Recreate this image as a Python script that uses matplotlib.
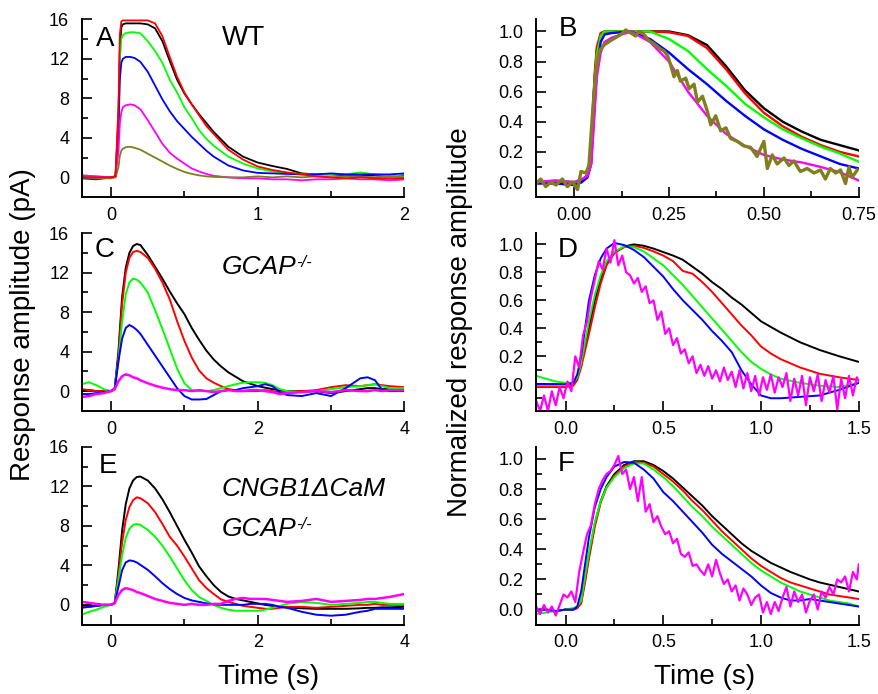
import matplotlib
matplotlib.use("Agg")
import matplotlib.pyplot as plt
from matplotlib.ticker import MultipleLocator, FormatStrFormatter

plt.rcParams['font.family'] = ['Liberation Sans', 'DejaVu Sans']

# colours of the flash series (brightest first)
cBlack = '#000000'
cRed = '#ff0000'
cGreen = '#00ff00'
cBlue = '#0000ff'
cMagenta = '#ff00ff'
cOlive = '#7f7f1e'

# ---------------- panel A : WT, pA ----------------
tA = [-0.2, -0.1, 0.0, 0.03, 0.05, 0.06, 0.07, 0.08, 0.1, 0.13, 0.16, 0.2, 0.25, 0.3, 0.35, 0.4, 0.45, 0.5,
      0.55, 0.6, 0.65, 0.7, 0.8, 0.9, 1.0, 1.1, 1.2, 1.3, 1.4, 1.5, 1.6, 1.7, 1.8, 1.9, 2.0]
aBlack = [0.0, -0.1, 0.0, 0.1, 6.0, 13.0, 15.2, 15.5, 15.6, 15.6, 15.6, 15.6, 15.5, 15.1, 13.8, 11.8, 9.9, 8.5,
          7.4, 6.4, 5.5, 4.6, 3.1, 2.1, 1.5, 1.15, 0.85, 0.4, 0.3, 0.3, 0.2, 0.2, 0.2, 0.1, 0.2]
aRed = [0.0, 0.0, 0.0, 0.1, 7.0, 14.5, 15.8, 15.9, 15.9, 15.9, 15.9, 15.9, 15.9, 15.6, 14.3, 12.2, 10.2, 8.6,
        7.4, 6.3, 5.2, 4.4, 2.8, 1.8, 1.1, 0.75, 0.5, 0.3, 0.1, 0.0, -0.1, 0.0, -0.1, -0.1, -0.1]
aGreen = [0.2, 0.1, 0.0, 0.1, 5.5, 12.0, 14.0, 14.4, 14.6, 14.7, 14.7, 14.6, 13.8, 12.8, 11.6, 9.9, 8.6, 7.1,
          6.0, 4.8, 3.9, 3.2, 2.1, 1.4, 0.9, 0.6, 0.45, 0.35, 0.3, 0.3, 0.3, 0.5, 0.3, 0.2, 0.1]
aBlue = [-0.1, -0.2, 0.0, 0.1, 4.5, 10.0, 11.6, 12.0, 12.2, 12.2, 12.1, 11.7, 10.7, 9.3, 7.9, 6.7, 5.7, 4.9,
         4.1, 3.4, 2.7, 2.1, 1.2, 0.7, 0.45, 0.4, 0.35, 0.3, 0.3, 0.4, 0.3, 0.3, 0.3, 0.3, 0.4]
aMagenta = [0.2, 0.1, 0.0, 0.1, 2.5, 5.5, 6.6, 7.1, 7.3, 7.4, 7.3, 6.9, 5.8, 4.6, 3.4, 2.5, 1.9, 1.4,
            0.9, 0.6, 0.35, 0.15, 0.0, -0.1, -0.1, -0.2, -0.2, -0.3, -0.2, -0.2, -0.1, -0.2, -0.2, -0.3, -0.2]
aOlive = [0.0, -0.1, -0.1, 0.0, 1.0, 2.2, 2.7, 2.9, 3.05, 3.1, 3.0, 2.8, 2.4, 2.0, 1.6, 1.2, 0.85, 0.55,
          0.35, 0.2, 0.1, 0.05, 0.0, 0.0, 0.1, 0.0, 0.1, 0.0, 0.1, 0.0, 0.1, 0.1, 0.0, 0.1, 0.0]

# ---------------- panel B : WT normalized ----------------
tB = [-0.1, -0.05, 0.0, 0.02, 0.035, 0.045, 0.05, 0.055, 0.06, 0.07, 0.08, 0.1, 0.15, 0.2, 0.25, 0.3, 0.35,
      0.4, 0.45, 0.5, 0.55, 0.6, 0.65, 0.7, 0.75]
bBlack = [0.0, 0.0, -0.02, 0.0, 0.05, 0.2, 0.5, 0.72, 0.88, 0.98, 1.0, 1.0, 1.0, 1.0, 1.0, 0.975, 0.91,
          0.77, 0.61, 0.49, 0.40, 0.335, 0.28, 0.245, 0.21]
bRed = [0.0, 0.0, -0.01, 0.0, 0.05, 0.22, 0.52, 0.75, 0.9, 0.99, 1.0, 1.0, 1.0, 1.0, 0.995, 0.97, 0.89,
        0.75, 0.59, 0.46, 0.37, 0.30, 0.245, 0.2, 0.17]
bGreen = [0.0, 0.01, 0.0, 0.0, 0.04, 0.18, 0.45, 0.68, 0.85, 0.97, 1.0, 1.0, 1.0, 1.0, 0.95, 0.87, 0.75,
          0.64, 0.52, 0.43, 0.35, 0.29, 0.235, 0.19, 0.135]
bBlue = [-0.01, -0.01, -0.02, 0.0, 0.03, 0.12, 0.35, 0.55, 0.75, 0.93, 0.98, 0.99, 1.0, 0.95, 0.86, 0.75, 0.65,
         0.54, 0.44, 0.35, 0.28, 0.22, 0.17, 0.12, 0.09]
bMagenta = [0.0, 0.01, 0.0, 0.02, 0.04, 0.12, 0.3, 0.5, 0.7, 0.86, 0.93, 0.96, 1.0, 0.93, 0.8, 0.6, 0.44,
            0.32, 0.24, 0.18, 0.15, 0.13, 0.1, 0.065, 0.01]
tBOlive = [-0.1, -0.088, -0.075, -0.061, -0.048, -0.031, -0.018, -0.004, 0.009, 0.018, 0.031, 0.039, 0.048,
           0.057, 0.066, 0.079, 0.096, 0.11, 0.123, 0.136, 0.149, 0.162, 0.171, 0.184, 0.197, 0.21, 0.224,
           0.237, 0.246, 0.254, 0.263, 0.272, 0.28, 0.294, 0.303, 0.316, 0.325, 0.338, 0.351, 0.36, 0.373,
           0.386, 0.4, 0.412, 0.43, 0.447, 0.465, 0.482, 0.5, 0.509, 0.522, 0.535, 0.553, 0.566, 0.579, 0.596,
           0.614, 0.632, 0.649, 0.662, 0.675, 0.689, 0.702, 0.715, 0.724, 0.732, 0.746]
bOlive = [-0.01, 0.02, -0.03, 0.0, -0.02, 0.02, -0.03, 0.0, -0.05, 0.07, 0.06, 0.11, 0.44,
          0.73, 0.87, 0.91, 0.94, 0.96, 0.98, 1.01, 0.99, 0.97, 1.0, 0.98, 0.94, 0.92, 0.89,
          0.87, 0.84, 0.78, 0.70, 0.74, 0.67, 0.69, 0.62, 0.65, 0.53, 0.57, 0.47, 0.38, 0.44,
          0.34, 0.36, 0.29, 0.27, 0.24, 0.23, 0.17, 0.27, 0.09, 0.18, 0.12, 0.16, 0.11, 0.14, 0.07,
          0.09, 0.06, 0.08, 0.02, 0.09, 0.06, 0.08, -0.01, 0.10, 0.03, 0.08]

# ---------------- panels C and E : GCAP-/- and CNGB1dCaM GCAP-/-, pA ----------------
tCE = [-0.4, -0.3, -0.2, -0.1, 0.0, 0.05, 0.1, 0.15, 0.2, 0.25, 0.3, 0.35, 0.4, 0.5, 0.6, 0.7, 0.8, 0.9, 1.0,
       1.1, 1.2, 1.3, 1.4, 1.5, 1.6, 1.7, 1.8, 1.9, 2.0, 2.1, 2.2, 2.3, 2.4, 2.6, 2.8, 3.0, 3.2, 3.4, 3.5,
       3.6, 3.7, 3.8, 4.0]
cBlackV = [0.0, 0.1, 0.0, 0.0, 0.0, 0.3, 4.0, 9.5, 12.5, 14.0, 14.7, 14.9, 14.8, 13.8, 12.6, 11.4, 10.1, 8.9, 7.8,
           6.4, 5.2, 4.1, 3.2, 2.5, 1.9, 1.45, 1.0, 0.75, 0.5, 0.35, 0.2, 0.1, 0.0, 0.0, 0.0, -0.2, 0.0, 0.2, 0.3,
           0.3, 0.2, 0.2, 0.2]
cRedV = [0.2, 0.1, 0.0, 0.0, 0.0, 0.3, 3.5, 8.8, 12.0, 13.5, 14.1, 14.2, 14.1, 13.5, 12.4, 11.0, 9.3, 7.1, 5.1,
         3.4, 2.1, 1.3, 0.85, 0.5, 0.2, 0.1, 0.0, 0.0, 0.0, 0.1, 0.0, -0.1, -0.1, 0.0, 0.1, 0.4, 0.6, 0.5, 0.6,
         0.7, 0.6, 0.5, 0.4]
cGreenV = [0.7, 0.9, 0.6, 0.2, 0.0, 0.3, 3.0, 7.0, 9.8, 11.0, 11.4, 11.3, 11.0, 10.0, 8.2, 6.3, 4.3, 2.3, 0.8,
           0.1, 0.0, 0.0, 0.1, 0.3, 0.5, 0.7, 0.85, 0.9, 0.9, 0.85, 0.6, 0.2, 0.0, -0.1, 0.0, 0.2, 0.4, 0.5, 0.6,
           0.7, 0.5, 0.3, 0.3]
cBlueV = [-0.3, -0.3, -0.2, -0.1, 0.0, 0.2, 3.0, 5.3, 6.4, 6.7, 6.5, 6.2, 5.8, 4.7, 3.6, 2.5, 1.4, 0.3, -0.5,
          -0.85, -0.85, -0.8, -0.4, 0.0, 0.1, 0.1, 0.3, 0.4, 0.5, 0.7, 0.5, -0.1, -0.4, -0.5, -0.2, -0.5, 0.3, 1.3,
          1.4, 1.1, 0.1, 0.0, 0.0]
cMagentaV = [-0.6, -0.5, -0.3, -0.2, 0.0, 0.2, 1.0, 1.5, 1.7, 1.6, 1.4, 1.3, 1.1, 0.8, 0.55, 0.35, 0.2, 0.1, 0.1,
             0.0, 0.1, 0.0, -0.1, 0.0, 0.1, 0.0, 0.0, 0.1, 0.1, 0.0, -0.1, -0.3, -0.2, -0.1, 0.0, -0.1, 0.1, 0.0,
             0.0, 0.1, 0.0, 0.1, 0.1]

eBlackV = [-0.1, -0.1, -0.1, 0.0, 0.0, 0.2, 3.5, 7.5, 10.2, 11.8, 12.6, 12.95, 13.0, 12.6, 11.8, 10.7, 9.4, 8.0,
           6.6, 5.3, 3.9, 2.9, 2.0, 1.3, 0.85, 0.6, 0.45, 0.3, 0.15, 0.0, -0.1, -0.2, -0.25, -0.35, -0.4, -0.4,
           -0.4, -0.35, -0.3, -0.3, -0.25, -0.25, -0.2]
eRedV = [-0.2, -0.2, -0.1, 0.0, 0.0, 0.2, 3.0, 6.3, 8.6, 9.9, 10.6, 10.9, 10.8, 10.3, 9.4, 8.2, 6.9, 6.0, 4.9,
         3.7, 2.5, 1.7, 1.1, 0.55, 0.3, 0.1, -0.1, -0.2, -0.3, -0.4, -0.4, -0.3, -0.2, -0.2, -0.3, -0.2, -0.1,
         0.0, 0.0, 0.1, 0.0, 0.0, 0.0]
eGreenV = [-1.0, -0.7, -0.5, -0.2, 0.0, 0.2, 2.5, 5.0, 6.8, 7.7, 8.1, 8.2, 8.1, 7.6, 6.9, 6.0, 4.9, 3.7, 2.5,
           1.5, 0.8, 0.4, 0.0, -0.3, -0.5, -0.6, -0.6, -0.6, -0.6, -0.5, -0.3, -0.1, 0.1, 0.3, 0.2, 0.0, 0.1,
           0.2, 0.3, 0.3, 0.2, 0.1, 0.1]
eBlueV = [-0.3, -0.2, -0.1, 0.0, 0.0, 0.2, 1.8, 3.5, 4.3, 4.5, 4.45, 4.3, 4.05, 3.55, 2.9, 2.2, 1.6, 1.1, 0.7,
          0.45, 0.3, 0.15, 0.05, 0.0, 0.0, 0.0, 0.0, 0.1, 0.1, 0.1, 0.0, -0.2, -0.3, -0.7, -1.0, -1.1, -1.0,
          -0.7, -0.6, -0.4, -0.4, -0.4, -0.4]
eMagentaV = [0.3, 0.2, 0.1, 0.0, 0.0, 0.2, 1.0, 1.5, 1.7, 1.6, 1.5, 1.3, 1.2, 0.9, 0.6, 0.4, 0.2, 0.1, 0.0,
             0.1, 0.0, 0.0, 0.1, 0.1, 0.4, 0.6, 0.7, 0.6, 0.6, 0.6, 0.5, 0.4, 0.3, 0.4, 0.6, 0.3, 0.4, 0.5, 0.6,
             0.6, 0.7, 0.8, 1.1]

# ---------------- panel D : GCAP-/- normalized ----------------
tD = [-0.15, -0.1, -0.05, 0.0, 0.04, 0.06, 0.08, 0.1, 0.12, 0.15, 0.18, 0.21, 0.25, 0.3, 0.35, 0.4, 0.45, 0.5,
      0.55, 0.6, 0.65, 0.7, 0.75, 0.8, 0.85, 0.9, 0.95, 1.0, 1.05, 1.1, 1.2, 1.3, 1.4, 1.5]
dBlack = [0.0, 0.0, 0.0, 0.0, 0.0, 0.05, 0.15, 0.28, 0.4, 0.6, 0.75, 0.86, 0.94, 0.985, 1.0, 0.99, 0.97, 0.945,
          0.92, 0.89, 0.84, 0.79, 0.73, 0.68, 0.62, 0.57, 0.51, 0.45, 0.41, 0.37, 0.30, 0.245, 0.2, 0.16]
dRed = [-0.02, -0.02, -0.02, -0.02, -0.01, 0.03, 0.12, 0.24, 0.36, 0.55, 0.72, 0.85, 0.94, 0.98, 0.99, 0.975,
        0.95, 0.92, 0.88, 0.81, 0.79, 0.73, 0.66, 0.58, 0.5, 0.42, 0.35, 0.27, 0.22, 0.18, 0.12, 0.075, 0.05, 0.03]
dGreen = [0.06, 0.04, 0.02, 0.01, 0.01, 0.05, 0.15, 0.3, 0.45, 0.64, 0.78, 0.88, 0.95, 0.985, 0.98, 0.95, 0.9,
          0.85, 0.78, 0.71, 0.63, 0.55, 0.47, 0.39, 0.31, 0.23, 0.16, 0.11, 0.07, 0.04, 0.01, -0.01, -0.02, 0.01]
dBlue = [0.0, 0.0, 0.0, 0.0, 0.01, 0.07, 0.2, 0.4, 0.6, 0.78, 0.9, 0.97, 1.01, 0.995, 0.96, 0.91, 0.84, 0.77,
         0.68, 0.6, 0.53, 0.46, 0.38, 0.31, 0.23, 0.1, 0.0, -0.08, -0.1, -0.1, -0.09, -0.08, -0.04, 0.01]
tDMagenta = [-0.15, -0.13, -0.11, -0.09, -0.07, -0.05, -0.03, -0.01, 0.01, 0.03, 0.05, 0.07, 0.09, 0.11, 0.13,
             0.15, 0.17, 0.19, 0.21, 0.23, 0.25, 0.27, 0.29, 0.31, 0.33, 0.35, 0.37, 0.39, 0.41, 0.43, 0.45,
             0.47, 0.49, 0.51, 0.53, 0.55, 0.57, 0.59, 0.61, 0.63, 0.65, 0.67, 0.69, 0.71, 0.73, 0.75, 0.77,
             0.79, 0.81, 0.83, 0.85, 0.87, 0.89, 0.91, 0.93, 0.95, 0.97, 0.99, 1.01, 1.03, 1.05, 1.07, 1.09,
             1.11, 1.13, 1.15, 1.17, 1.19, 1.21, 1.23, 1.25, 1.27, 1.29, 1.31, 1.33, 1.35, 1.37, 1.39, 1.41,
             1.43, 1.45, 1.47, 1.49, 1.5]
dMagenta = [-0.12, -0.19, -0.08, -0.19, -0.05, -0.15, -0.02, -0.1, 0.02, -0.05, 0.2, 0.12, 0.35, 0.45, 0.62,
            0.75, 0.88, 0.82, 0.97, 0.87, 1.03, 0.85, 0.92, 0.8, 0.78, 0.72, 0.76, 0.66, 0.7, 0.58, 0.6,
            0.46, 0.52, 0.36, 0.4, 0.28, 0.33, 0.22, 0.25, 0.15, 0.2, 0.08, 0.14, 0.06, 0.13, 0.04, 0.1,
            0.02, 0.12, 0.03, 0.09, -0.02, 0.1, -0.03, 0.08, -0.05, 0.06, -0.08, 0.05, -0.04, 0.07, -0.06, 0.05,
            -0.02, 0.08, -0.12, 0.04, -0.08, 0.06, -0.15, 0.05, -0.05, 0.07, -0.12, 0.03, -0.06, 0.06, -0.18, 0.04,
            -0.1, 0.06, -0.08, 0.05, 0.02]

# ---------------- panel F : CNGB1dCaM GCAP-/- normalized ----------------
tF = [-0.15, -0.1, -0.05, 0.0, 0.04, 0.06, 0.08, 0.1, 0.12, 0.15, 0.18, 0.21, 0.25, 0.3, 0.35, 0.4, 0.45, 0.5,
      0.55, 0.6, 0.65, 0.7, 0.75, 0.8, 0.85, 0.9, 0.95, 1.0, 1.05, 1.1, 1.15, 1.2, 1.25, 1.3, 1.35, 1.4, 1.45, 1.5]
fBlack = [0.0, 0.0, -0.01, 0.0, 0.0, 0.01, 0.05, 0.2, 0.36, 0.57, 0.72, 0.82, 0.9, 0.96, 0.985, 0.985, 0.96,
          0.92, 0.87, 0.81, 0.75, 0.69, 0.62, 0.56, 0.5, 0.44, 0.39, 0.35, 0.31, 0.28, 0.25, 0.225, 0.2, 0.18,
          0.165, 0.15, 0.135, 0.12]
fRed = [-0.01, 0.0, -0.01, 0.0, 0.0, 0.01, 0.04, 0.18, 0.34, 0.55, 0.71, 0.81, 0.89, 0.95, 0.98, 0.975, 0.95,
        0.9, 0.85, 0.79, 0.72, 0.66, 0.59, 0.52, 0.46, 0.4, 0.34, 0.29, 0.25, 0.21, 0.18, 0.16, 0.14, 0.12,
        0.1, 0.09, 0.08, 0.07]
fGreen = [-0.03, -0.02, -0.01, 0.0, 0.01, 0.02, 0.06, 0.22, 0.38, 0.58, 0.72, 0.81, 0.88, 0.94, 0.97, 0.97, 0.93,
          0.88, 0.82, 0.75, 0.68, 0.62, 0.55, 0.49, 0.43, 0.37, 0.31, 0.26, 0.22, 0.18, 0.15, 0.12, 0.1, 0.08,
          0.06, 0.05, 0.04, 0.02]
fBlue = [0.0, 0.0, -0.01, 0.0, 0.0, 0.02, 0.12, 0.3, 0.48, 0.68, 0.8, 0.88, 0.95, 0.98, 0.975, 0.93, 0.87, 0.78,
         0.72, 0.65, 0.58, 0.51, 0.43, 0.37, 0.32, 0.27, 0.22, 0.16, 0.11, 0.08, 0.06, 0.06, 0.07, 0.06, 0.05,
         0.04, 0.03, 0.02]
tFMagenta = [-0.15, -0.13, -0.11, -0.09, -0.07, -0.05, -0.03, -0.01, 0.01, 0.03, 0.05, 0.07, 0.09, 0.11, 0.13,
             0.15, 0.17, 0.19, 0.21, 0.23, 0.25, 0.27, 0.29, 0.31, 0.33, 0.35, 0.37, 0.39, 0.41, 0.43, 0.45,
             0.47, 0.49, 0.51, 0.53, 0.55, 0.57, 0.59, 0.61, 0.63, 0.65, 0.67, 0.69, 0.71, 0.73, 0.75, 0.77,
             0.79, 0.81, 0.83, 0.85, 0.87, 0.89, 0.91, 0.93, 0.95, 0.97, 0.99, 1.01, 1.03, 1.05, 1.07, 1.09,
             1.11, 1.13, 1.15, 1.17, 1.19, 1.21, 1.23, 1.25, 1.27, 1.29, 1.31, 1.33, 1.35, 1.37, 1.39, 1.41,
             1.43, 1.45, 1.47, 1.49, 1.5]
fMagenta = [0.02, -0.03, 0.03, -0.02, 0.02, -0.04, 0.03, 0.1, 0.08, 0.12, 0.05, 0.25, 0.38, 0.5, 0.56,
            0.7, 0.8, 0.86, 0.9, 0.92, 0.96, 1.02, 0.9, 0.93, 0.8, 0.88, 0.72, 0.88, 0.65, 0.7, 0.58,
            0.62, 0.55, 0.5, 0.52, 0.44, 0.47, 0.37, 0.35, 0.38, 0.29, 0.3, 0.26, 0.23, 0.3, 0.22, 0.33,
            0.24, 0.17, 0.2, 0.12, 0.16, 0.06, 0.14, 0.1, 0.03, 0.08, 0.1, -0.02, 0.05, -0.03, 0.05, -0.01,
            0.08, 0.15, 0.02, 0.12, 0.05, 0.1, -0.02, 0.06, 0.1, 0.0, 0.12, 0.08, 0.15, 0.1, 0.2, 0.18,
            0.22, 0.12, 0.25, 0.2, 0.3]

fig = plt.figure(figsize=(8.79, 6.94), dpi=100)

colL, colR = 0.093, 0.610
rowBottoms = [0.716, 0.408, 0.100]
axW, axH = 0.367, 0.256

axA = fig.add_axes([colL, rowBottoms[0], axW, axH])
axB = fig.add_axes([colR, rowBottoms[0], axW, axH])
axC = fig.add_axes([colL, rowBottoms[1], axW, axH])
axD = fig.add_axes([colR, rowBottoms[1], axW, axH])
axE = fig.add_axes([colL, rowBottoms[2], axW, axH])
axF = fig.add_axes([colR, rowBottoms[2], axW, axH])


def styleAxis(ax, xlim, ylim, xMajor, xMinor, yMajor, yMinor, xFmt, yFmt):
    ax.set_xlim(*xlim)
    ax.set_ylim(*ylim)
    ax.xaxis.set_major_locator(MultipleLocator(xMajor))
    ax.xaxis.set_minor_locator(MultipleLocator(xMinor))
    ax.yaxis.set_major_locator(MultipleLocator(yMajor))
    ax.yaxis.set_minor_locator(MultipleLocator(yMinor))
    ax.xaxis.set_major_formatter(FormatStrFormatter(xFmt))
    ax.yaxis.set_major_formatter(FormatStrFormatter(yFmt))
    for side in ['top', 'right']:
        ax.spines[side].set_visible(False)
    for side in ['left', 'bottom']:
        ax.spines[side].set_linewidth(1.4)
    ax.tick_params(which='major', direction='in', length=7, width=1.2, labelsize=13)
    ax.tick_params(axis='x', which='major', pad=7)
    ax.tick_params(axis='y', which='major', pad=9)
    ax.tick_params(which='minor', direction='in', length=4, width=1.2)


def genotypeLabel(ax, x, y):
    # italic GCAP with a small -/- superscript hung off its top right corner
    main = ax.text(x, y, 'GCAP', transform=ax.transAxes, fontsize=19, style='italic', va='baseline')
    ax.annotate('-/-', xy=(1.0, 0.98), xycoords=main, fontsize=12, style='italic', ha='left', va='top')


lwA = 1.3
axA.plot(tA, aBlack, color=cBlack, lw=lwA)
axA.plot(tA, aGreen, color=cGreen, lw=lwA)
axA.plot(tA, aBlue, color=cBlue, lw=lwA)
axA.plot(tA, aMagenta, color=cMagenta, lw=lwA)
axA.plot(tA, aOlive, color=cOlive, lw=lwA)
axA.plot(tA, aRed, color=cRed, lw=lwA)
styleAxis(axA, (-0.2, 2.0), (-2, 16), 1, 0.5, 4, 2, '%d', '%d')

lwB = 1.7
axB.plot(tB, bBlack, color=cBlack, lw=lwB)
axB.plot(tB, bRed, color=cRed, lw=lwB)
axB.plot(tB, bGreen, color=cGreen, lw=lwB)
axB.plot(tB, bBlue, color=cBlue, lw=lwB)
axB.plot(tB, bMagenta, color=cMagenta, lw=lwB)
axB.plot(tBOlive, bOlive, color=cOlive, lw=2.4)
styleAxis(axB, (-0.1, 0.75), (-0.1, 1.08), 0.25, 0.125, 0.2, 0.1, '%.2f', '%.1f')

lwC = 1.4
axC.plot(tCE, cBlackV, color=cBlack, lw=lwC)
axC.plot(tCE, cRedV, color=cRed, lw=lwC)
axC.plot(tCE, cGreenV, color=cGreen, lw=lwC)
axC.plot(tCE, cBlueV, color=cBlue, lw=lwC)
axC.plot(tCE, cMagentaV, color=cMagenta, lw=1.8)
styleAxis(axC, (-0.4, 4.0), (-2, 16), 2, 1, 4, 2, '%d', '%d')

lwD = 1.4
axD.plot(tD, dBlack, color=cBlack, lw=lwD)
axD.plot(tD, dRed, color=cRed, lw=lwD)
axD.plot(tD, dGreen, color=cGreen, lw=lwD)
axD.plot(tD, dBlue, color=cBlue, lw=lwD)
axD.plot(tDMagenta, dMagenta, color=cMagenta, lw=1.6)
styleAxis(axD, (-0.15, 1.5), (-0.19, 1.08), 0.5, 0.25, 0.2, 0.1, '%.1f', '%.1f')

axE.plot(tCE, eBlackV, color=cBlack, lw=lwC)
axE.plot(tCE, eRedV, color=cRed, lw=lwC)
axE.plot(tCE, eGreenV, color=cGreen, lw=lwC)
axE.plot(tCE, eBlueV, color=cBlue, lw=lwC)
axE.plot(tCE, eMagentaV, color=cMagenta, lw=1.8)
styleAxis(axE, (-0.4, 4.0), (-2, 16), 2, 1, 4, 2, '%d', '%d')

axF.plot(tF, fBlack, color=cBlack, lw=lwD)
axF.plot(tF, fRed, color=cRed, lw=lwD)
axF.plot(tF, fGreen, color=cGreen, lw=lwD)
axF.plot(tF, fBlue, color=cBlue, lw=lwD)
axF.plot(tFMagenta, fMagenta, color=cMagenta, lw=1.6)
styleAxis(axF, (-0.15, 1.5), (-0.1, 1.08), 0.5, 0.25, 0.2, 0.1, '%.1f', '%.1f')

# panel letters and genotype labels
letterSize = 20
axA.text(0.043, 0.85, 'A', transform=axA.transAxes, fontsize=letterSize, va='baseline')
axA.text(0.434, 0.854, 'WT', transform=axA.transAxes, fontsize=letterSize, va='baseline')
axB.text(0.069, 0.906, 'B', transform=axB.transAxes, fontsize=letterSize, va='baseline')
axC.text(0.041, 0.867, 'C', transform=axC.transAxes, fontsize=letterSize, va='baseline')
genotypeLabel(axC, 0.434, 0.773)
axD.text(0.068, 0.868, 'D', transform=axD.transAxes, fontsize=letterSize, va='baseline')
axE.text(0.052, 0.852, 'E', transform=axE.transAxes, fontsize=letterSize, va='baseline')
axE.text(0.434, 0.725, 'CNGB1\u0394CaM', transform=axE.transAxes, fontsize=19, style='italic', va='baseline')
genotypeLabel(axE, 0.434, 0.50)
axF.text(0.068, 0.865, 'F', transform=axF.transAxes, fontsize=letterSize, va='baseline')

fig.text(0.026, 0.533, 'Response amplitude (pA)', rotation=90, fontsize=20, ha='center', va='center')
fig.text(0.523, 0.536, 'Normalized response amplitude', rotation=90, fontsize=20, ha='center', va='center')
fig.text(0.305, 0.024, 'Time (s)', fontsize=20, ha='center', va='center')
fig.text(0.802, 0.024, 'Time (s)', fontsize=20, ha='center', va='center')

fig.savefig('out.png', dpi=100)
